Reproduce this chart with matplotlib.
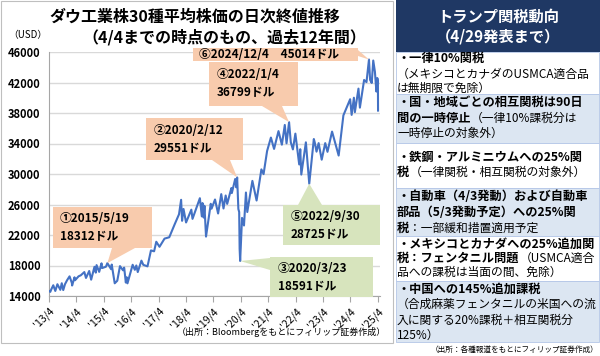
import pandas as pd
import matplotlib.pyplot as plt
import matplotlib.dates as mdates
from matplotlib.patches import Polygon, Rectangle

plt.rcParams['font.family'] = ['Noto Sans CJK JP', 'DejaVu Sans']

# Dow closes (turning points)
dates = [
    # 2013
    '2013-04-01', '2013-04-18', '2013-04-30', '2013-05-28', '2013-06-24', '2013-07-22',
    '2013-08-30', '2013-09-18', '2013-10-08', '2013-10-31', '2013-11-29', '2013-12-31',
    # 2014
    '2014-01-31', '2014-02-03', '2014-03-07', '2014-03-14', '2014-04-30', '2014-05-30',
    '2014-07-16', '2014-08-07', '2014-09-19', '2014-10-15', '2014-11-28', '2014-12-16',
    '2014-12-26',
    # 2015
    '2015-01-30', '2015-03-02', '2015-03-10', '2015-04-30', '2015-05-19', '2015-07-08',
    '2015-07-16', '2015-08-25', '2015-09-28', '2015-11-03', '2015-12-14', '2015-12-29',
    # 2016
    '2016-01-20', '2016-02-01', '2016-02-11', '2016-04-20', '2016-05-19', '2016-06-08',
    '2016-06-27', '2016-08-15', '2016-09-09', '2016-11-04', '2016-12-20',
    # 2017
    '2017-01-31', '2017-03-01', '2017-04-13', '2017-06-19', '2017-08-21', '2017-10-31',
    '2017-12-29',
    # 2018
    '2018-01-26', '2018-02-08', '2018-02-27', '2018-04-02', '2018-06-11', '2018-06-27',
    '2018-10-03', '2018-10-29', '2018-11-07', '2018-11-23', '2018-12-03', '2018-12-24',
    # 2019
    '2019-02-25', '2019-03-08', '2019-04-23', '2019-06-03', '2019-07-15', '2019-08-14',
    '2019-09-12', '2019-10-02', '2019-11-27', '2019-12-03',
    # 2020
    '2020-01-17', '2020-01-31', '2020-02-12', '2020-02-28', '2020-03-10', '2020-03-16',
    '2020-03-23', '2020-04-17', '2020-05-13', '2020-06-08', '2020-06-26', '2020-09-02',
    '2020-10-28', '2020-12-31',
    # 2021
    '2021-01-29', '2021-03-17', '2021-05-07', '2021-06-18', '2021-08-16', '2021-09-30',
    '2021-11-08', '2021-12-01',
    # 2022
    '2022-01-04', '2022-01-27', '2022-02-24', '2022-03-29', '2022-05-19', '2022-06-02',
    '2022-06-16', '2022-08-16', '2022-09-30', '2022-11-30', '2022-12-13',
    # 2023
    '2023-01-05', '2023-02-02', '2023-03-15', '2023-05-01', '2023-05-31', '2023-07-31',
    '2023-10-27', '2023-12-29',
    # 2024
    '2024-03-28', '2024-04-17', '2024-05-17', '2024-05-30', '2024-07-17', '2024-08-05',
    '2024-09-30', '2024-11-01', '2024-12-04', '2024-12-19',
    # 2025
    '2025-01-10', '2025-01-30', '2025-02-21', '2025-03-13', '2025-03-25', '2025-04-02',
    '2025-04-04',
]
closes = [
    14662, 14537, 14840, 15409, 14660, 15545,
    14810, 15676, 14776, 15546, 16086, 16577,
    15699, 15373, 16453, 16065, 16581, 16717,
    17138, 16368, 17280, 16141, 17828, 17068,
    18053,
    17165, 18288, 17662, 17841, 18312, 17515,
    18120, 15666, 16001, 17918, 17368, 17720,
    15766, 16449, 15660, 18096, 17435, 18005,
    17140, 18636, 18085, 17888, 19975,
    19864, 21115, 20453, 21528, 21703, 23377,
    24719,
    26617, 23860, 25410, 23644, 25322, 24117,
    26828, 24443, 26191, 24286, 25826, 21792,
    26091, 25450, 26656, 24819, 27359, 25479,
    27182, 26079, 28164, 27503,
    29348, 28256, 29551, 25409, 25018, 20189,
    18591, 24242, 23248, 27572, 25016, 29100,
    26520, 30606,
    29983, 33015, 34778, 33290, 35625, 33844,
    36432, 34022,
    36799, 34160, 33224, 35294, 31253, 33249,
    29927, 34152, 28725, 34590, 34108,
    32930, 34054, 31875, 34051, 32908, 35560,
    32418, 37690,
    39807, 37753, 40004, 38112, 41198, 38703,
    42330, 42052, 45014, 42342,
    41938, 44882, 43428, 40813, 42587, 42225,
    38315,
]

tick_dates = ['2013-04-01', '2014-04-01', '2015-04-01', '2016-04-01', '2017-04-01',
              '2018-04-01', '2019-04-01', '2020-04-01', '2021-04-01', '2022-04-01',
              '2023-04-01', '2024-04-01', '2025-04-01']
tick_labels = ["'13/4", "'14/4", "'15/4", "'16/4", "'17/4", "'18/4", "'19/4",
               "'20/4", "'21/4", "'22/4", "'23/4", "'24/4", "'25/4"]
y_ticks = [14000, 18000, 22000, 26000, 30000, 34000, 38000, 42000, 46000]

note_dates = ['2015-05-19', '2020-02-12', '2020-03-23', '2022-01-04', '2022-09-30', '2024-12-04']
note_values = [18312, 29551, 18591, 36799, 28725, 45014]

W, H = 600, 356
ORANGE = '#F8CBAD'
GREEN = '#D7E4BD'
NAVY = '#1F3864'
LIGHTBLUE = '#DCE6F2'


def fxy(px, py):
    return px / W, 1 - py / H


fig = plt.figure(figsize=(6, 3.56), dpi=100)
fig.patch.set_facecolor('white')

# left panel frame
fig.add_artist(Rectangle(fxy(1, 343), 392 / W, 342 / H, transform=fig.transFigure,
                         facecolor='none', edgecolor='#BFBFBF', lw=0.8))

ax = fig.add_axes([49 / W, 1 - 296 / H, (380 - 49) / W, (296 - 52) / H])
x = pd.to_datetime(dates)
ax.plot(x, closes, color='#4472C4', lw=1.5, zorder=3)

ax.set_ylim(14000, 46000)
ax.set_xlim(pd.Timestamp('2013-04-01'), pd.Timestamp('2025-04-30'))
ax.set_yticks(y_ticks)
ax.set_yticklabels([str(v) for v in y_ticks], fontsize=8, fontweight='bold')
ax.set_xticks(pd.to_datetime(tick_dates))
ax.set_xticklabels(tick_labels, fontsize=7.5, rotation=45, ha='right',
                   rotation_mode='anchor')
ax.tick_params(axis='y', length=0, pad=6)
ax.tick_params(axis='x', length=4, color='#A6A6A6', pad=3)
ax.grid(axis='y', color='#D9D9D9', lw=1)
ax.set_axisbelow(True)
for s in ['top', 'right']:
    ax.spines[s].set_visible(False)
ax.spines['left'].set_color('#A6A6A6')
ax.spines['bottom'].set_color('#A6A6A6')

fig.text(*fxy(195, 17), 'ダウ工業株30種平均株価の日次終値推移', fontsize=11.5,
         fontweight='bold', ha='center', va='center')
fig.text(*fxy(224, 37), '（4/4までの時点のもの、過去12年間）', fontsize=11.5,
         fontweight='bold', ha='center', va='center')
fig.text(*fxy(8, 35), '（USD）', fontsize=7, ha='left', va='center')
fig.text(*fxy(386, 332), '（出所：Bloombergをもとにフィリップ証券作成）', fontsize=6.5,
         ha='right', va='center')


def tip_px(i):
    d = ax.transData.transform((mdates.date2num(pd.Timestamp(note_dates[i])), note_values[i]))
    fx, fy = fig.transFigure.inverted().transform(d)
    return fx * W, (1 - fy) * H


def callout(i, box, side, b0, b1, color, lines, text_xy):
    x0, y0, x1, y1 = box
    t = tip_px(i)
    if side == 'bottom':
        pts = [(x0, y0), (x1, y0), (x1, y1), (b1, y1), t, (b0, y1), (x0, y1)]
    elif side == 'top':
        pts = [(x0, y0), (b0, y0), t, (b1, y0), (x1, y0), (x1, y1), (x0, y1)]
    elif side == 'left':
        pts = [(x0, y0), (x1, y0), (x1, y1), (x0, y1), (x0, b1), t, (x0, b0)]
    else:
        pts = [(x0, y0), (x1, y0), (x1, b0), t, (x1, b1), (x1, y1), (x0, y1)]
    fig.add_artist(Polygon([fxy(px, py) for px, py in pts], closed=True,
                           transform=fig.transFigure, facecolor=color,
                           edgecolor='none', zorder=5))
    tx, ty = text_xy
    for k, s in enumerate(lines):
        fig.text(*fxy(tx, ty + k * 18), s, fontsize=8.5, fontweight='bold',
                 ha='left', va='center', zorder=6)


callout(0, (53, 207, 152, 248), 'bottom', 112, 135, ORANGE, ['①2015/5/19', '18312ドル'], (60, 219))
callout(1, (146, 118, 243, 160), 'bottom', 212, 230, ORANGE, ['②2020/2/12', '29551ドル'], (154, 131))
callout(2, (270, 257, 373, 297), 'left', 258, 270, GREEN, ['③2020/3/23', '18591ドル'], (278, 269))
callout(3, (209, 62, 298, 106), 'bottom', 262, 282, ORANGE, ['④2022/1/4', '36799ドル'], (217, 75))
callout(4, (283, 205, 380, 245), 'top', 298, 322, GREEN, ['⑤2022/9/30', '28725ドル'], (291, 217))
callout(5, (193, 48, 358, 61), 'right', 50, 56, ORANGE, ['⑥2024/12/4　45014ドル'], (199, 54))

# right panel
fig.add_artist(Rectangle(fxy(396, 52), (W - 396) / W, 52 / H, transform=fig.transFigure,
                         facecolor=NAVY, edgecolor='none'))
fig.text(*fxy(498, 17), 'トランプ関税動向', fontsize=11, fontweight='bold',
         color='white', ha='center', va='center')
fig.text(*fxy(498, 36), '（4/29発表まで）', fontsize=11, fontweight='bold',
         color='white', ha='center', va='center')

B, N = 'bold', 'normal'
items = [
    (52, 94, 'white', [58, 74, 88],
     [[('・一律10%関税', B)],
      [('（メキシコとカナダのUSMCA適合品', N)],
      [('は無期限で免除）', N)]]),
    (94, 143, LIGHTBLUE, [102, 118, 133],
     [[('・国・地域ごとの相互関税は90日', B)],
      [('間の一時停止', B), ('（一律10%課税分は', N)],
      [('一時停止の対象外）', N)]]),
    (143, 188, 'white', [157, 172],
     [[('・鉄鋼・アルミニウムへの25%関', B)],
      [('税', B), ('（一律関税・相互関税の対象外）', N)]]),
    (188, 236, LIGHTBLUE, [197, 212, 228],
     [[('・自動車（4/3発動）および自動車', B)],
      [('部品（5/3発動予定）への25%関', B)],
      [('税', B), ('：一部緩和措置適用予定', N)]]),
    (236, 281, 'white', [244, 258, 272],
     [[('・メキシコとカナダへの25%追加関', B)],
      [('税：フェンタニル問題', B), ('（USMCA適合', N)],
      [('品への課税は当面の間、免除）', N)]]),
    (281, 342, LIGHTBLUE, [289, 304, 320, 335],
     [[('・中国への145%追加課税', B)],
      [('（合成麻薬フェンタニルの米国への流', N)],
      [('入に関する20%課税＋相互関税分', N)],
      [('125%）', N)]]),
]
renderer = fig.canvas.get_renderer()
for top, bot, bg, ys, rows in items:
    fig.add_artist(Rectangle(fxy(396, bot), (W - 397) / W, (bot - top) / H,
                             transform=fig.transFigure, facecolor=bg,
                             edgecolor='#B4C6E7', lw=0.6))
    for py, segs in zip(ys, rows):
        px = 397
        for s, w in segs:
            t = fig.text(*fxy(px, py), s, fontsize=8.8 if w == B else 8.5,
                         fontweight=w, ha='left', va='center')
            px += t.get_window_extent(renderer=renderer).width

fig.text(*fxy(598, 350), '（出所：各種報道をもとにフィリップ証券作成）', fontsize=5.5,
         ha='right', va='center')

fig.savefig('out.png', dpi=100)
